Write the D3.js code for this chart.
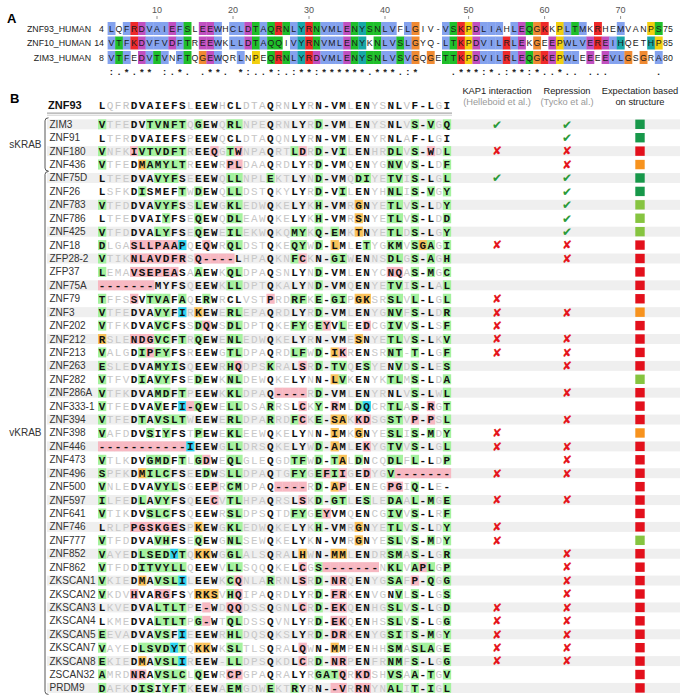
<!DOCTYPE html>
<html><head><meta charset="utf-8">
<script src="https://cdn.jsdelivr.net/npm/d3@7"></script>
<style>body{margin:0;background:#fff}svg{display:block}</style>
</head><body>
<svg id="chart" width="683" height="699"></svg>
<script>
// ---------------- Panel A data ----------------
const alnNames = ["ZNF93_HUMAN", "ZNF10_HUMAN", "ZIM3_HUMAN"];
const alnStart = [4, 14, 8];
const alnEnd = [75, 85, 80];
const alnSeqs = [
  "LQFRDVAIEFSLEEWHCLDTAQRNLYRNVMLENYSNLVFLGIV-VSKPDLIAHLEQGKKPLTMKRHEMVANPS",
  "VTFKDVFVDFTREEWKLLDTAQQIVYRNVMLENYKNLVSLGYQ-LTKPDVILRLEKGEEPWLVEREIHQETHP",
  "VTFEDVTVNFTQGEWQRLNPEQRNLYRDVMLENYSNLVSVGQGETTKPDVILRLEQGKEPWLEEEEVLGSGRA"
];
const alnConservation = ":.*.** :.*. .**. *:..*:.:**:******.***.:*    .***:*.:**:*..*.. ...      .";
const alnTicks = [10, 20, 30, 40, 50, 60, 70];

// ---------------- Panel B data ----------------
const refName = "ZNF93";
const refSeq = "L QFR DVAIEFS L EEW H CL DTA Q RN LY R N-VM L EN YS NL V F-L G I";
const shadeMask = "0 111 0000000 1 000 1 00 111 0 11 00 1 0000 1 00 11 00 1 000 1 0";
const rowNames = ["ZIM3","ZNF91","ZNF180","ZNF436","ZNF75D","ZNF26","ZNF783","ZNF786","ZNF425","ZNF18",
  "ZFP28-2","ZFP37","ZNF75A","ZNF79","ZNF3","ZNF202","ZNF212","ZNF213","ZNF263","ZNF282","ZNF286A",
  "ZNF333-1","ZNF394","ZNF398","ZNF446","ZNF473","ZNF496","ZNF500","ZNF597","ZNF641","ZNF746","ZNF777",
  "ZNF852","ZNF862","ZKSCAN1","ZKSCAN2","ZKSCAN3","ZKSCAN4","ZKSCAN5","ZKSCAN7","ZKSCAN8","ZSCAN32","PRDM9"];
const groupNames = ["sKRAB", "vKRAB"];
const groupSizes = [4, 39];
const rowSeqs = [
  "V TFE DVTVNFT Q GEW Q RL NPE Q RN LY R D-VM L EN YS NL V S-V G Q",
  "L TFR DVAIEFS P EEW Q CL DTA Q QN LY R N-VM L EN YR NL A F-L G I",
  "V NFK IVTVDFT R EEQ G TW NPA Q RT LD R D-VI L EN HR DL V S-W D L",
  "V TFE DMAMYLT R EEW R PL DAA Q RD LY R D-VM Q EN YG NV V S-L D F",
  "L TFE DVAVYFS E EEW Q LL NPL E KT LY N D-VM Q DI YE TV I S-L G L",
  "L SFK DISMEFT W DEW Q LL DST Q KY LY R D-VI L EN YH NL I S-V G Y",
  "V TFD DVAVYFS S LEW G KL EDW Q KE LY K H-VM R GN YE TL V S-L D Y",
  "L TFE DVAIYFS E QEW Q DL EAW Q KE LY K H-VM R SN YE TL V S-L D D",
  "V TFD DVALYFS E QEW E IL EKW Q KQ MY K Q-EM K TN YE TL D S-L G Y",
  "D LGA SLLPAAP Q EQW R QL DST Q KE QY W D-LM L ET YG KM V SGA G I",
  "V TIK NLAVDFR S Q-- - -L HPA Q KN FC K N-GI W EN NS DL G S-A G H",
  "L EMA VSEPEAS A AEW K QL DPA Q SN LY N D-VM L EN YC NQ A S-M G C",
  "- --- ---MYFS Q EEW K LL DPT Q KA LY N D-VM Q EN YE TV I S-L A L",
  "T FFS SVTVAFA Q ERW R CL VST P RD RF K E-GI P GK SR SL V L-L G L",
  "V TFE DVAVYFI R KEW E RL EPA Q RD LY R D-VM L EN YG NV F S-L D R",
  "V TFK DVAVCFS S DQW S DL DPT Q KE FY G EYVL E ED CG IV V S-L S F",
  "R SLE NDGVCFT R QEW E NL EDW Q KE LY R N-VM E SN YE TL V S-L K V",
  "V ALG DIPFYFS R EEW G TL DPA Q RD LF W D-IK R EN SR NT - T-L G F",
  "E SLE DVAMYIS Q EEW R HQ DPS K RA LS R D-TV Q ES YE NV D S-L E S",
  "V TFV DIAVYFS E DEW K NL DEW Q KE LY N N-LV K EN YK TL M S-L D A",
  "V TFK DVAMDFT P EEW K KL DPA Q -- -- R D-VM L EN YR NL V S-L W L",
  "V TFE DVAVEFI - QEW E LL DSA R RS LC K Y-RM L DQ CR TL A S-R G T",
  "V TFE DTAVSLT W EEW E RL DPA R RD FC K E-SA K KD SG ST V P-P S L",
  "V AFD DVSIYFS T PEW E KL EEW Q KE LY N N-IM K GN YE SL I S-M D Y",
  "- --- ------- I EEW G LL DRS Q KE LY W D-AM L EK YG TV V S-L G L",
  "V TLK DVGMDFT L GDW E QL GLE Q GD TF W D-TA L DN CQ DL F L-L D P",
  "S PFK DMILCFS E EDW S LL DPA Q TG FY G EFII G ED YG V- - --- - -",
  "V NLE DVAVYLS G EEP R CM DPA Q -- -- R D-AP L EN EG PG I Q-L E -",
  "I LFE DLAVYFS Q EEC V TL HPA Q RS LS K D-GT L ES LE DA A L-M G E",
  "V TIK DVSLCFS Q EEW R SL DPS Q TD FY G EYVM Q EN CG IV V S-L R F",
  "L RLP PGSKGES P KEW G KL EDW Q KE LY K H-VM R GN YE TL V S-L D Y",
  "V TFD DVAVHFS E QEW G NL SEW Q KE LY K N-VM R GN YE SL V S-M D Y",
  "V AYE DLSEDYT Q KKW G GL ALS Q RA LH W N-MM L EN DR SM A S-L G R",
  "V TFD DITVYLL Q EEW V LL SQQ Q KE LC G S--- - -- -N KL V APL G P",
  "V KIE DMAVSLI L EEW K CQ NLA R RN LS R D-NR Q EN YG SA F P-Q G G",
  "V KDV HVARGFS Y RKS V HQ IPA Q RD LY R D-FR K EN VG NV L S-L G S",
  "L KVE DVALTLT P E-W D QQ DSS Q GN LC R D-EK Q EN HG SL V S-L G D",
  "L KME DVALTLT P G-W T QL DSS Q VN LY R D-EK Q EN HS SL V S-L G G",
  "E EVA DVAVSFI E EEW R HL DQS Q KS LY R D-DR K EN YG SI T S-M G Y",
  "V AYE DLSVDYT Q KKW K SL TLS Q RA LQ W N-MM P EN HH SM A SLA G E",
  "E KIE DMAVSLI R EEW - LL DPS Q KD LC R D-NR P EN FR NM F S-L G G",
  "A MRD NRAVSLC L QEW R CP GPA Q RA LY R GATQ R KD SH VS A A-T G V",
  "D AFK DISIYFT K EEW A EM GDW E KT RY R N--V R RN YN AL I T-I G L"
];
// G = conservative, P = disruptive, O = intermediate, C = other substitution
const rowMarks = [
  "G ... ..GGGGG . G.. . GG ... . .. .. . G... . .. .. .. . G.G . G",
  ". ... ....... . ... . .. ... . .. .. . .... . .. .. .. . ... . .",
  "G ... PGGGGGG . ..P . GP ... . .. GP . G..G . .. .. GG . G.P . G",
  "G ... .OGGGGG . ... . PP ... . .. .. . G... . .. .. GG . G.. . G",
  ". ... ...GGG. . ... . GG ... G .. .. . G... . GG .. GG . G.. . G",
  ". ... .G....G . G.. . GG ... . .. .. . G..G . .. .. GG . G.G . G",
  "G ... ...GGG. . G.. . GG ... . .. .. . G... . O. .. GG . G.. . G",
  ". ... ....G.. . G.. . GG ... . .. .. . G... . O. .. GG . G.. . G",
  "G ... ...GG.. . G.. . GG ... . .. GG . G.G. . O. .. GG . G.. . G",
  "G ... PPPPPPC . .P. . GG ... . .. GG . G.O. . .G .. GG . GOG . G",
  "G ... PPPPPPP . PPP P P. ... . .. GP . ..GG . .. .. GG . G.G . G",
  "G ... PPPPPP. . G.. . GG ... . .. .. . G... . .. .. PP . G.G . G",
  "P PPP PPP.... . ... . GG ... . .. .. . G... . .. .. GG . G.. . G",
  "G ... P.GGG.G . .G. . .. ... P .. GG . G.GG . OO .. GG . G.. . G",
  "G ... ...GG.C . O.. . GG ... . .. .. . G... . .. .. GG . G.. . G",
  "G ... ...GG.. . GP. . GG ... . .. GG . GP.G . .P .. GG . G.. . G",
  "O ... PPPGG.G . G.. . GG ... . .. .. . .... . O. .. GG . G.. . G",
  "G ... .GPGG.. . ... . GG ... . .. GG . G.OP . .. .. GG . G.. . G",
  "G ... ...GGG. . ... . GP ... G .. .P . G.GG . .G .. .G . G.. . G",
  "G ... .G.GG.. . G.. . GG ... . .. .. . ..OG . .. .. GG . G.. . G",
  "G ... ...GG.G . ... . GG ... . PP PP . G... . .. .. .. . G.. . G",
  "G ... ...G..C P G.. . GG ... G .. .P . G.P. . GC .. GG . G.P . G",
  "G ... .G.GGGG . ... . GG ... G .. GP . G.OO . PP .. GG . P.P . G",
  "G ... ..G.G.. . G.. . GG ... . .. .. . ..O. . O. .. GG . G.G . G",
  "P PPP PPPPPPP C ... . GG ... . .. .. . G.O. . .P .. GG . G.. . G",
  "G ... ..GGG.G . GP. . GG ... . .. GG . G.GO . G. .. GG . G.. . G",
  "G ... .OGGG.. . .G. . GG ... . .. GG . GPGP . .P .. GP P PPP P P",
  "G ... ...GGG. . ..P . GG ... . PP PP . G.OP . .. .. PP . G.. . .",
  "G ... .G.GG.. . ..P . GG ... . .. .P . G.GG . .G .. GG . G.G . G",
  "G ... ..GGG.. . ... . GG ... . .. GG . GP.. . .. .. GG . G.. . G",
  ". ... PPPPPP. . O.. . GG ... . .. .. . G... . O. .. GG . G.. . G",
  "G ... ...GG.. . G.. . GG ... . .. .. . .... . O. .. GG . G.G . G",
  "G ... .GGGGCG . OO. . GG ... . .. .O . ..OO . .. .. GG . G.. . G",
  "G ... .GGGGGG . ... . GG ... . .. .P . GPPP P PP P. GG . GPG . G",
  "G ... .O.GGGC . ... . GP ... G .. .P . G.PP . .. .. GG . P.G . G",
  "G ... P..PP.. . OOO . GP ... . .. .. . G.PP . .. .. .G . G.. . G",
  ". ... ...GGGG . .P. . PP ... . .. .P . G.PP . .. .. GG . G.. . G",
  ". ... ...GGGG . GP. . GG ... . .. .. . G.PP . .. .. GG . G.. . G",
  "G ... ...GG.C . ... . GG ... . .. .. . G.PP . .. .. GG . G.G . G",
  "G ... .GGGGCG . OO. . GG ... . .. .P . ..O. . .. .. GG . GGG . G",
  "G ... .O.GGGC . ... . GG ... . .. .P . G.PP . .. .. GG . G.. . G",
  "G ... PP.GGGG . G.. . PP ... . .. .. . GGGP . PP .. GG . G.G . G",
  "G ... .GG.G.G . ... . GG ... G .. G. . ..PP . PP .. GG . G.G . G"
];
const kap1 = ["y","","n","","y","","","","","n","","","","n","n","n","n","n","","","","","","n","n","","n","","n","","n","n","","","","","n","n","n","n","n","",""];
const repression = ["y","y","n","n","y","y","y","y","y","n","n","","","","n","","n","n","n","","n","","n","","n","n","n","","n","","","","n","n","n","n","n","n","n","n","n","",""];
const expectation = ["high","high","none","low","high","high","mid","mid","mid","none","none","none","none","none","low","none","none","none","none","mid","none","none","none","low","none","none","none","none","none","none","none","mid","none","none","none","none","none","none","none","none","none","none","none"];
const colHeaders = [["KAP1 interaction","(Helleboid et al.)"],["Repression","(Tycko et al.)"],["Expectation based","on structure"]];

// ---------------- validation ----------------
const errors = [];
const groupPattern = [1,3,7,1,3,1,2,3,1,2,2,1,4,1,2,2,2,1,3,1,1];
function checkGroups(s, label) {
  const g = s.split(" ").map(t => t.length);
  if (g.length !== groupPattern.length || g.some((v, i) => v !== groupPattern[i])) errors.push(label + ":" + g.join(","));
}
const clean = s => s.replace(/ /g, "");
checkGroups(refSeq, "ref"); checkGroups(shadeMask, "mask");
rowSeqs.forEach((s, i) => checkGroups(s, "seq " + rowNames[i]));
rowMarks.forEach((s, i) => checkGroups(s, "marks " + rowNames[i]));

// ---------------- drawing ----------------
const svg = d3.select("#chart");
const sans = "'Liberation Sans', Arial, Helvetica, sans-serif";
const mono = "'Liberation Mono', 'DejaVu Sans Mono', monospace";

svg.append("text").attr("x", 7).attr("y", 23).text("A")
  .attr("font-family", sans).attr("font-weight", "bold").attr("font-size", 13);
svg.append("text").attr("x", 10).attr("y", 103).text("B")
  .attr("font-family", sans).attr("font-weight", "bold").attr("font-size", 13);

// ----- Panel A -----
const nCols = alnSeqs[0].length;
const xA = d3.scalePoint().domain(d3.range(nCols)).range([111.4, 111.4 + (nCols - 1) * 7.6]);
const yA = d3.scalePoint().domain(alnNames).range([28.5, 57.5]);
const cwA = 7.6, chA = 13;

const pct = (col, set) => col.filter(c => set.includes(c)).length / col.length * 100;
function clustalColour(res, col) {
  const hyd = pct(col, "WLVIMAFCHP");
  const c = {
    "%": hyd > 60, "#": hyd > 80,
    "-": pct(col, "ED") > 50, "+": pct(col, "KR") > 60,
    "n": pct(col, "N") > 50, "q": pct(col, "QE") > 50,
    "p": pct(col, "P") > 50, "t": pct(col, "TS") > 50
  };
  const ok = list => list.some(k => (k in c) ? c[k] : pct(col, k) > 85);
  if ("AILMFWV".includes(res)) return ok(["%","#","A","C","F","H","I","L","M","V","W","Y","P","p"]) ? "blue" : null;
  if (res === "C") { if (pct(col, "C") > 85) return "pink"; return ok(["%","#","A","C","F","H","I","L","M","V","W","Y","P","p"]) ? "blue" : null; }
  if ("KR".includes(res)) return ok(["+","K","R","Q"]) ? "red" : null;
  if (res === "E") return ok(["-","D","E","q","Q"]) ? "magenta" : null;
  if (res === "D") return ok(["-","D","E","n","N"]) ? "magenta" : null;
  if (res === "N") return ok(["n","N","D"]) ? "green" : null;
  if (res === "Q") return ok(["q","Q","E","+","K","R"]) ? "green" : null;
  if ("ST".includes(res)) return ok(["%","#","t","S","T"]) ? "green" : null;
  if (res === "G") return "orange";
  if (res === "P") return "yellow";
  if ("HY".includes(res)) return ok(["%","#","A","C","F","H","I","L","M","P","p","Q","V","W","Y"]) ? "cyan" : null;
  return null;
}
const clustalFill = d3.scaleOrdinal()
  .domain(["blue","red","magenta","green","orange","yellow","cyan","pink"])
  .range(["#84a2ee","#ee2a2a","#c04fc0","#1fbf2a","#f08a32","#f2cf10","#18a7a7","#f08080"]);

const gA = svg.append("g");
const refA = alnSeqs[0];
let num = alnStart[0] - 1;
const resNumCol = {};
for (let j = 0; j < nCols; j++) { if (refA[j] !== "-") { num++; resNumCol[num] = j; } }
alnTicks.forEach(t => {
  const x = xA(resNumCol[t]);
  gA.append("text").attr("x", x).attr("y", 13).attr("text-anchor", "middle")
    .attr("font-family", sans).attr("font-size", 9).attr("fill", "#555").text(t);
  gA.append("line").attr("x1", x).attr("x2", x).attr("y1", 16).attr("y2", 19)
    .attr("stroke", "#777").attr("stroke-width", 0.8);
});
alnNames.forEach((nm, i) => {
  const y = yA(nm);
  gA.append("text").attr("x", 91).attr("y", y).attr("dy", "0.35em").attr("text-anchor", "end")
    .attr("font-family", sans).attr("font-size", 8.8).attr("fill", "#222").text(nm);
  gA.append("text").attr("x", 104).attr("y", y).attr("dy", "0.35em").attr("text-anchor", "end")
    .attr("font-family", sans).attr("font-size", 8.8).attr("fill", "#222").text(alnStart[i]);
  gA.append("text").attr("x", 663).attr("y", y).attr("dy", "0.35em")
    .attr("font-family", sans).attr("font-size", 8.8).attr("fill", "#222").text(alnEnd[i]);
  for (let j = 0; j < nCols; j++) {
    const res = alnSeqs[i][j];
    const col = alnSeqs.map(s => s[j]);
    const cat = res === "-" ? null : clustalColour(res, col);
    if (cat) gA.append("rect").attr("x", xA(j) - cwA / 2).attr("y", y - chA / 2)
      .attr("width", cwA + 0.3).attr("height", chA).attr("fill", clustalFill(cat));
    gA.append("text").attr("x", xA(j)).attr("y", y).attr("dy", "0.35em").attr("text-anchor", "middle")
      .attr("font-family", sans).attr("font-size", 8.8).attr("fill", "#1a1a1a").text(res);
  }
});
for (let j = 0; j < nCols; j++) {
  const s = alnConservation[j];
  if (s && s !== " ") gA.append("text").attr("x", xA(j)).attr("y", 72).attr("dy", "0.35em")
    .attr("text-anchor", "middle").attr("font-family", sans).attr("font-weight", "bold")
    .attr("font-size", 9.5).attr("fill", "#222").text(s);
}

// ----- Panel B -----
const ref = clean(refSeq), mask = clean(shadeMask);
const nB = ref.length;
const xB = d3.scalePoint().domain(d3.range(nB)).range([102, 102 + (nB - 1) * 8.02]);
const yB = d3.scalePoint().domain(rowNames).range([124.3, 124.3 + (rowNames.length - 1) * 13.42]);
const hlFill = d3.scaleOrdinal().domain(["G","P","O","C"]).range(["#a4f29e","#f7b8c2","#f9c25a","#2ed4f0"]);
const expFill = d3.scaleOrdinal().domain(["high","mid","low","none"]).range(["#17984a","#86c440","#f7931e","#e3101c"]);
const colX = [497, 567, 640];
const gB = svg.append("g");

gB.append("text").attr("x", 48).attr("y", 105).attr("dy", "0.35em").text(refName)
  .attr("font-family", sans).attr("font-weight", "bold").attr("font-size", 11).attr("fill", "#111");
for (let j = 0; j < nB; j++) {
  const shaded = mask[j] === "1";
  gB.append("text").attr("x", xB(j)).attr("y", 105).attr("dy", "0.35em").attr("text-anchor", "middle")
    .attr("font-family", mono).attr("font-size", 11).attr("font-weight", shaded ? "normal" : "bold")
    .attr("fill", shaded ? "#c2c2c2" : "#111").text(ref[j]);
}
gB.append("line").attr("x1", 47).attr("x2", 452).attr("y1", 113.2).attr("y2", 113.2).attr("stroke", "#a8a8a8").attr("stroke-width", 1.2);
gB.append("line").attr("x1", 47).attr("x2", 452).attr("y1", 115.2).attr("y2", 115.2).attr("stroke", "#d0d0d0").attr("stroke-width", 1);
colHeaders.forEach((h, k) => {
  gB.append("text").attr("x", colX[k]).attr("y", 91).attr("dy", "0.35em").attr("text-anchor", "middle")
    .attr("font-family", sans).attr("font-size", 9.3).attr("fill", "#222").text(h[0]);
  gB.append("text").attr("x", colX[k]).attr("y", 101.5).attr("dy", "0.35em").attr("text-anchor", "middle")
    .attr("font-family", sans).attr("font-size", 9.3).attr("fill", k === 2 ? "#222" : "#999").text(h[1]);
});

rowNames.forEach((nm, i) => {
  const y = yB(nm);
  const seq = clean(rowSeqs[i]), mk = clean(rowMarks[i]);
  if (i % 2 === 0) gB.append("rect").attr("x", 47).attr("y", y - 5).attr("width", 633).attr("height", 10).attr("fill", "#efefef");
  gB.append("text").attr("x", 49.5).attr("y", y).attr("dy", "0.35em").attr("font-family", sans)
    .attr("font-size", 10).attr("fill", "#333").text(nm);
  for (let j = 0; j < nB; j++) {
    const m = mk[j], shaded = mask[j] === "1";
    const hi = m !== "." && m !== undefined;
    if (hi) gB.append("rect").attr("x", xB(j) - 4.01).attr("y", y - 5).attr("width", 8.3).attr("height", 10).attr("fill", hlFill(m));
    const dim = shaded && !hi;
    gB.append("text").attr("x", xB(j)).attr("y", y).attr("dy", "0.35em").attr("text-anchor", "middle")
      .attr("font-family", mono).attr("font-size", 11).attr("font-weight", dim ? "normal" : "bold")
      .attr("fill", dim ? "#c8c8c8" : "#111").text(seq[j]);
  }
  [kap1[i], repression[i]].forEach((v, k) => {
    if (!v) return;
    gB.append("text").attr("x", colX[k]).attr("y", y).attr("dy", "0.36em").attr("text-anchor", "middle")
      .attr("font-family", "'DejaVu Sans', sans-serif").attr("font-size", 12)
      .attr("fill", v === "y" ? "#2a9a3a" : "#e5141c").text(v === "y" ? "\u2714" : "\u2718");
  });
  gB.append("rect").attr("x", colX[2] - 4.7).attr("y", y - 4.7).attr("width", 9.4).attr("height", 9.4)
    .attr("fill", expFill(expectation[i]));
});

let start = 0;
groupNames.forEach((g, k) => {
  const y0 = yB(rowNames[start]) - 6.5, y1 = yB(rowNames[start + groupSizes[k] - 1]) + 6.5;
  const p = d3.path();
  p.moveTo(48.5, y0); p.quadraticCurveTo(45, y0, 45, y0 + 3);
  p.lineTo(45, y1 - 3); p.quadraticCurveTo(45, y1, 48.5, y1);
  gB.append("path").attr("d", p.toString()).attr("fill", "none").attr("stroke", "#444").attr("stroke-width", 0.9);
  gB.append("text").attr("x", 41.5).attr("y", (y0 + y1) / 2).attr("dy", "0.35em").attr("text-anchor", "end")
    .attr("font-family", sans).attr("font-size", 10).attr("fill", "#333").text(g);
  start += groupSizes[k];
});

if (errors.length) throw new Error("Length problems: " + errors.join(" | "));
</script>
</body></html>
